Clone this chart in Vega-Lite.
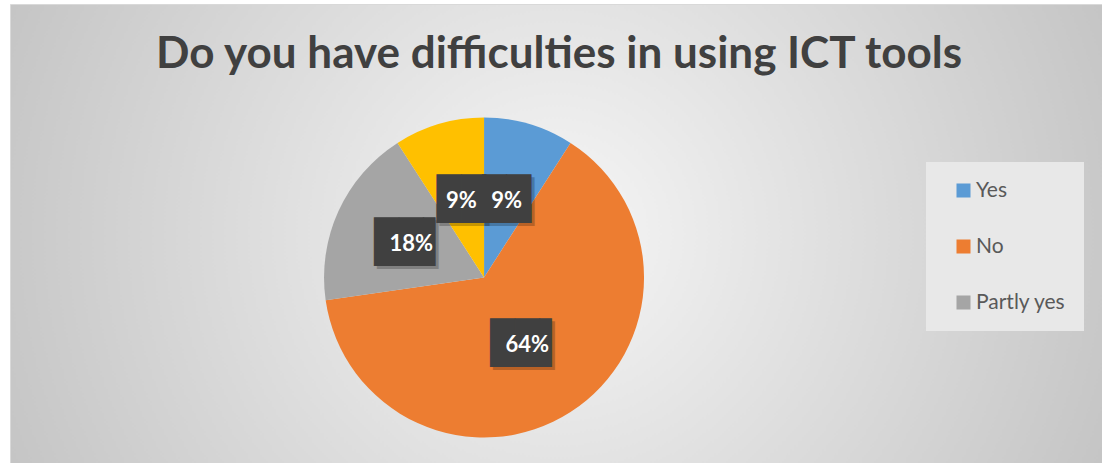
{
  "$schema": "https://vega.github.io/schema/vega-lite/v6.json",
  "width": 1092,
  "height": 459,
  "autosize": {"type": "none"},
  "padding": {"left": 10, "top": 4, "right": 0, "bottom": 0},
  "background": "white",
  "title": {
    "text": "Do you have difficulties in using ICT tools",
    "font": "Lato",
    "fontSize": 44,
    "fontWeight": "bold",
    "color": "#404040",
    "anchor": "middle",
    "baseline": "alphabetic",
    "offset": -108,
    "dx": 3
  },
  "data": {
    "values": [
      {"answer": "Yes", "count": 1, "label": "9%", "o": 1},
      {"answer": "No", "count": 7, "label": "64%", "o": 2},
      {"answer": "Partly yes", "count": 2, "label": "18%", "o": 3},
      {"answer": "Other", "count": 1, "label": "9%", "o": 4}
    ]
  },
  "encoding": {
    "x": {"datum": 0.4341, "type": "quantitative", "scale": {"domain": [0, 1]}, "axis": null},
    "y": {"datum": 0.4041, "type": "quantitative", "scale": {"domain": [0, 1]}, "axis": null},
    "theta": {"field": "count", "type": "quantitative", "stack": true},
    "order": {"field": "o", "type": "quantitative"}
  },
  "layer": [
    {
      "mark": {"type": "arc", "outerRadius": 160},
      "encoding": {
        "color": {
          "field": "answer",
          "type": "nominal",
          "scale": {"domain": ["Yes", "No", "Partly yes", "Other"], "range": ["#5B9BD5", "#ED7D31", "#A5A5A5", "#FFC000"]},
          "legend": {
            "orient": "none",
            "legendX": 916,
            "legendY": 158,
            "title": null,
            "values": ["Yes", "No", "Partly yes"],
            "symbolType": "square",
            "symbolSize": 196,
            "symbolStrokeWidth": 0,
            "labelFont": "Lato",
            "labelFontSize": 21,
            "labelColor": "#595959",
            "labelOffset": 2,
            "rowPadding": 34,
            "padding": 18,
            "symbolOffset": 9,
            "fillColor": "#e8e8e8"
          }
        }
      }
    },
    {
      "mark": {"type": "text", "radius": 80, "font": "DejaVu Sans Mono", "fontSize": 41, "baseline": "middle", "align": "center", "dx": 3, "dy": 3, "opacity": 0.22},
      "encoding": {
        "color": {"value": "#000000"},
        "text": {"condition": {"test": "length(datum.label) > 2", "value": "██▌"}, "value": "██"}
      }
    },
    {
      "mark": {"type": "text", "radius": 80, "font": "DejaVu Sans Mono", "fontSize": 41, "baseline": "middle", "align": "center"},
      "encoding": {
        "color": {"value": "#404040"},
        "text": {"condition": {"test": "length(datum.label) > 2", "value": "██▌"}, "value": "██"}
      }
    },
    {
      "mark": {"type": "text", "radius": 80, "font": "Lato", "fontSize": 22, "fontWeight": "bold", "baseline": "middle", "align": "center"},
      "encoding": {
        "color": {"value": "#ffffff"},
        "text": {"field": "label", "type": "nominal"}
      }
    }
  ],
  "config": {
    "view": {
      "stroke": "#d9d9d9",
      "fill": {
        "gradient": "radial",
        "x1": 0.5, "y1": 0.5, "r1": 0,
        "x2": 0.5, "y2": 0.5, "r2": 0.55,
        "stops": [
          {"offset": 0, "color": "#f6f6f6"},
          {"offset": 1, "color": "#c4c4c4"}
        ]
      }
    }
  }
}
